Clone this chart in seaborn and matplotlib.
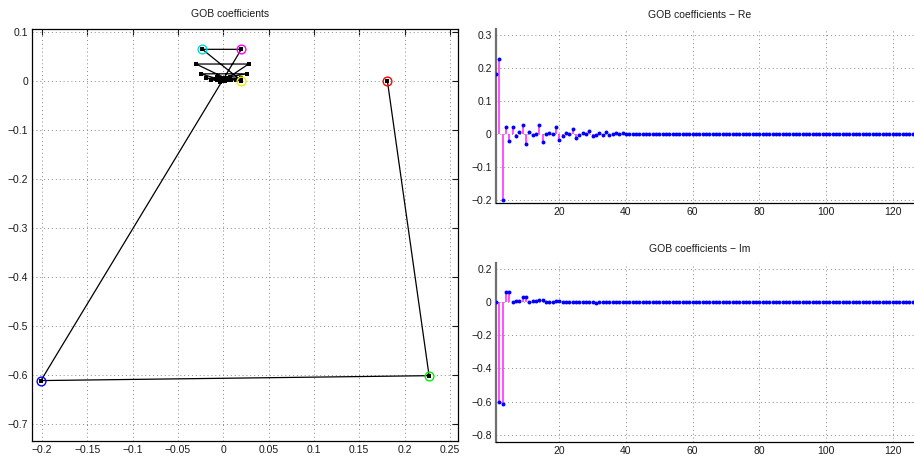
import numpy as np
import pandas as pd
import matplotlib
matplotlib.use("Agg")
import matplotlib.pyplot as plt
import seaborn as sns

# GOB expansion coefficients c_k = re_k + i*im_k, k = 1..128
re_part = [
    0.181, 0.227, -0.201, 0.020, -0.023, 0.020, -0.007, 0.007, 0.028, -0.030,
    0.006, -0.002, 0.001, 0.026, -0.025, -0.001, 0.002, -0.001, 0.020, -0.019,
    -0.005, 0.003, -0.001, 0.014, -0.013, -0.004, 0.003, -0.001, 0.009, -0.007,
    -0.003, 0.002, -0.002, 0.005, -0.003, -0.001, 0.002, -0.001, 0.002, 0.000,
    0.001, -0.001, 0.001, 0.001, 0.000, -0.001, 0.001, 0.000, 0.001, 0.000,
    0.000, 0.000, 0.001, 0.000, 0.000, 0.000, 0.000, 0.001, 0.000, 0.000,
    0.0, 0.0, 0.0, 0.0, 0.0, 0.0, 0.0, 0.0, 0.0, 0.0,
    0.0, 0.0, 0.0, 0.0, 0.0, 0.0, 0.0, 0.0, 0.0, 0.0,
    0.0, 0.0, 0.0, 0.0, 0.0, 0.0, 0.0, 0.0, 0.0, 0.0,
    0.0, 0.0, 0.0, 0.0, 0.0, 0.0, 0.0, 0.0, 0.0, 0.0,
    0.0, 0.0, 0.0, 0.0, 0.0, 0.0, 0.0, 0.0, 0.0, 0.0,
    0.0, 0.0, 0.0, 0.0, 0.0, 0.0, 0.0, 0.0, 0.0, 0.0,
    0.0, 0.0, 0.0, 0.0, 0.0, 0.0, 0.0, 0.0,
]
im_part = [
    0.000, -0.602, -0.612, 0.064, 0.064, 0.000, 0.008, 0.008, 0.034, 0.034,
    0.002, 0.006, 0.006, 0.014, 0.014, 0.001, 0.004, 0.004, 0.005, 0.005,
    0.001, 0.003, 0.003, 0.002, 0.002, -0.001, 0.002, 0.002, 0.001, 0.001,
    -0.002, 0.001, 0.001, 0.001, 0.001, -0.001, 0.000, 0.000, 0.001, 0.001,
    -0.001, 0.000, 0.000, 0.001, 0.000, -0.001, 0.000, 0.000, 0.000, 0.000,
    0.0, 0.0, 0.0, 0.0, 0.0, 0.0, 0.0, 0.0, 0.0, 0.0,
    0.0, 0.0, 0.0, 0.0, 0.0, 0.0, 0.0, 0.0, 0.0, 0.0,
    0.0, 0.0, 0.0, 0.0, 0.0, 0.0, 0.0, 0.0, 0.0, 0.0,
    0.0, 0.0, 0.0, 0.0, 0.0, 0.0, 0.0, 0.0, 0.0, 0.0,
    0.0, 0.0, 0.0, 0.0, 0.0, 0.0, 0.0, 0.0, 0.0, 0.0,
    0.0, 0.0, 0.0, 0.0, 0.0, 0.0, 0.0, 0.0, 0.0, 0.0,
    0.0, 0.0, 0.0, 0.0, 0.0, 0.0, 0.0, 0.0, 0.0, 0.0,
    0.0, 0.0, 0.0, 0.0, 0.0, 0.0, 0.0, 0.0,
]
index = list(range(1, len(re_part) + 1))

# colours ringing the first six coefficients in the complex plane
ring_colors = ["#ff0000", "#00ee00", "#0000ff", "#ff00ff", "#00dddd", "#eeee00"]

titles = ["GOB coefficients", "GOB coefficients \u2212 Re", "GOB coefficients \u2212 Im"]
xticks_plane = [-0.2, -0.15, -0.1, -0.05, 0, 0.05, 0.1, 0.15, 0.2, 0.25]
yticks_plane = [-0.7, -0.6, -0.5, -0.4, -0.3, -0.2, -0.1, 0, 0.1]
xticks_stem = [20, 40, 60, 80, 100, 120]
yticks_re = [-0.2, -0.1, 0, 0.1, 0.2, 0.3]
yticks_im = [-0.8, -0.6, -0.4, -0.2, 0, 0.2]

df = pd.DataFrame({"k": index, "re": re_part, "im": im_part})

sns.set_theme(style="white")
plt.rcParams["font.family"] = ["Liberation Sans", "DejaVu Sans"]
plt.rcParams["axes.unicode_minus"] = True

W, H = 914, 457
fig = plt.figure(figsize=(W / 100, H / 100), dpi=100)
fig.patch.set_facecolor("white")


def px_axes(x0, y0, x1, y1):
    return fig.add_axes([x0 / W, (H - y1) / H, (x1 - x0) / W, (y1 - y0) / H])


ax_pl = px_axes(32.3, 28.5, 458, 441)
ax_re = px_axes(496, 29, 919.3, 203)
ax_im = px_axes(496, 263, 919.3, 441.5)

FS = 7.5
TXT = "#1a1a1a"
grid_kw = dict(color="#8a8a8a", linestyle=(0, (1, 3)), linewidth=0.7)


def fmt(v):
    s = ("%g" % round(v, 4))
    return s.replace("-", "\u2212")


# ---- complex plane trajectory ----
sns.lineplot(data=df, x="re", y="im", sort=False, estimator=None, ax=ax_pl,
             color="black", linewidth=0.9, marker="s", markersize=2.3,
             markeredgewidth=0, zorder=3)
for i, c in enumerate(ring_colors):
    ax_pl.plot(re_part[i], im_part[i], marker="o", markersize=6.3,
               markerfacecolor="none", markeredgecolor=c, markeredgewidth=1.0,
               zorder=4)
ax_pl.set_xlim(-0.2105, 0.2589)
ax_pl.set_ylim(-0.7353, 0.1065)
ax_pl.set_xticks(xticks_plane)
ax_pl.set_xticklabels([fmt(v) for v in xticks_plane])
ax_pl.set_yticks(yticks_plane)
ax_pl.set_yticklabels([fmt(v) for v in yticks_plane])
ax_pl.tick_params(direction="in", length=4, width=0.8, top=True, right=True,
                  labelsize=FS, colors=TXT, pad=3)
ax_pl.grid(True, **grid_kw)
for sp in ax_pl.spines.values():
    sp.set_color("black")
    sp.set_linewidth(0.9)
ax_pl.set_xlabel("")
ax_pl.set_ylabel("")
ax_pl.set_title(titles[0], fontsize=FS, color=TXT, x=0.464, pad=8)

# ---- stem plots of real and imaginary parts ----
for ax, col, yt, ylim, title in [
    (ax_re, "re", yticks_re, (-0.209, 0.317), titles[1]),
    (ax_im, "im", yticks_im, (-0.841, 0.237), titles[2]),
]:
    ax.vlines(df["k"], 0, df[col], colors="#ff22ff", linewidth=1.1, zorder=2)
    sns.scatterplot(data=df, x="k", y=col, ax=ax, color="#0000ff", s=8,
                    linewidth=0, zorder=3)
    ax.set_xlim(1, 128)
    ax.set_ylim(*ylim)
    ax.set_xticks(xticks_stem)
    ax.set_xticklabels([fmt(v) for v in xticks_stem])
    ax.set_yticks(yt)
    ax.set_yticklabels([fmt(v) for v in yt])
    ax.tick_params(direction="in", length=4, width=0.8, labelsize=FS,
                   colors=TXT, pad=3)
    ax.grid(True, **grid_kw)
    ax.spines["top"].set_visible(False)
    ax.spines["right"].set_visible(False)
    ax.spines["left"].set_color("#707070")
    ax.spines["left"].set_linewidth(1.6)
    ax.spines["bottom"].set_color("black")
    ax.spines["bottom"].set_linewidth(0.9)
    ax.set_xlabel("")
    ax.set_ylabel("")
    ax.set_title(title, fontsize=FS, color=TXT, x=0.482, pad=8)

fig.savefig("out.png", dpi=100, facecolor="white")
